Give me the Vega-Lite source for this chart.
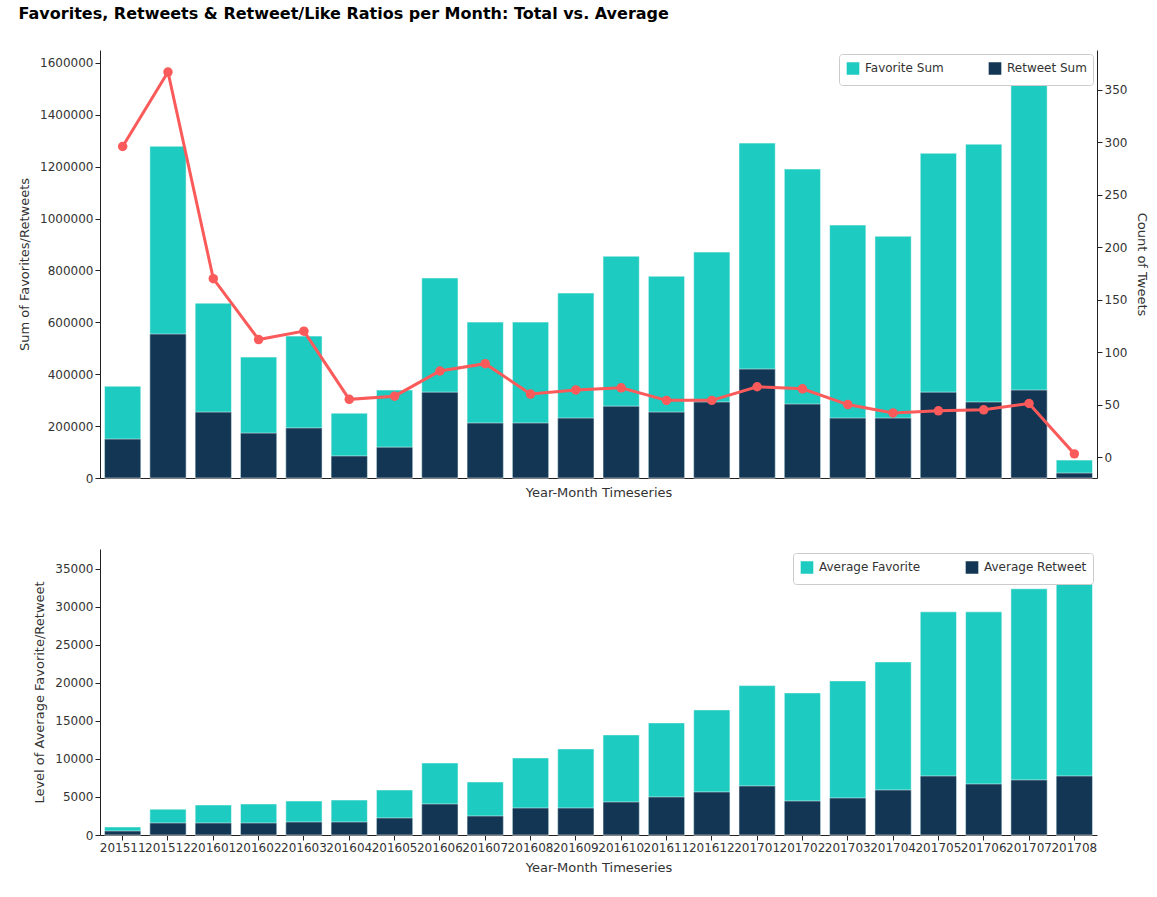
{
  "$schema": "https://vega.github.io/schema/vega-lite/v6.json",
  "title": {"text": "Favorites, Retweets & Retweet/Like Ratios per Month: Total vs. Average", "fontSize": 16, "fontWeight": "bold", "font": "DejaVu Sans", "offset": 28},
  "padding": {"left": 18, "top": 6, "right": 10, "bottom": 5},
  "datasets": {
    "monthly": [
      {"month": "201511", "fav_sum": 354000, "rt_sum": 150000, "tweets": 296, "fav_avg": 1050, "rt_avg": 530},
      {"month": "201512", "fav_sum": 1279000, "rt_sum": 555000, "tweets": 367, "fav_avg": 3400, "rt_avg": 1580},
      {"month": "201601", "fav_sum": 674000, "rt_sum": 254000, "tweets": 170, "fav_avg": 3950, "rt_avg": 1580},
      {"month": "201602", "fav_sum": 466000, "rt_sum": 173000, "tweets": 112, "fav_avg": 4080, "rt_avg": 1580},
      {"month": "201603", "fav_sum": 547000, "rt_sum": 193000, "tweets": 120, "fav_avg": 4470, "rt_avg": 1710},
      {"month": "201604", "fav_sum": 250000, "rt_sum": 85000, "tweets": 55, "fav_avg": 4600, "rt_avg": 1710},
      {"month": "201605", "fav_sum": 339000, "rt_sum": 119000, "tweets": 58, "fav_avg": 5920, "rt_avg": 2240},
      {"month": "201606", "fav_sum": 771000, "rt_sum": 331000, "tweets": 82, "fav_avg": 9470, "rt_avg": 4080},
      {"month": "201607", "fav_sum": 601000, "rt_sum": 212000, "tweets": 89, "fav_avg": 6970, "rt_avg": 2500},
      {"month": "201608", "fav_sum": 601000, "rt_sum": 212000, "tweets": 60, "fav_avg": 10130, "rt_avg": 3550},
      {"month": "201609", "fav_sum": 713000, "rt_sum": 231000, "tweets": 64, "fav_avg": 11320, "rt_avg": 3550},
      {"month": "201610", "fav_sum": 855000, "rt_sum": 277000, "tweets": 66, "fav_avg": 13160, "rt_avg": 4340},
      {"month": "201611", "fav_sum": 778000, "rt_sum": 254000, "tweets": 54, "fav_avg": 14740, "rt_avg": 5000},
      {"month": "201612", "fav_sum": 871000, "rt_sum": 293000, "tweets": 54, "fav_avg": 16450, "rt_avg": 5660},
      {"month": "201701", "fav_sum": 1291000, "rt_sum": 420000, "tweets": 67, "fav_avg": 19640, "rt_avg": 6450},
      {"month": "201702", "fav_sum": 1191000, "rt_sum": 285000, "tweets": 65, "fav_avg": 18680, "rt_avg": 4470},
      {"month": "201703", "fav_sum": 975000, "rt_sum": 231000, "tweets": 50, "fav_avg": 20260, "rt_avg": 4870},
      {"month": "201704", "fav_sum": 932000, "rt_sum": 231000, "tweets": 42, "fav_avg": 22760, "rt_avg": 5920},
      {"month": "201705", "fav_sum": 1252000, "rt_sum": 331000, "tweets": 44, "fav_avg": 29340, "rt_avg": 7760},
      {"month": "201706", "fav_sum": 1287000, "rt_sum": 293000, "tweets": 45, "fav_avg": 29340, "rt_avg": 6710},
      {"month": "201707", "fav_sum": 1620000, "rt_sum": 339000, "tweets": 51, "fav_avg": 32370, "rt_avg": 7240},
      {"month": "201708", "fav_sum": 69000, "rt_sum": 19000, "tweets": 3, "fav_avg": 35800, "rt_avg": 7760}
    ]
  },
  "data": {"name": "monthly"},
  "spacing": 50,
  "vconcat": [
    {
      "width": 997,
      "height": 428,
      "layer": [
        {
          "transform": [{"fold": ["fav_sum", "rt_sum"], "as": ["series", "value"]}],
          "mark": {"type": "bar", "stroke": "white", "strokeWidth": 0.5},
          "encoding": {
            "x": {"field": "month", "type": "ordinal", "scale": {"paddingInner": 0.2, "paddingOuter": 0.1},
                  "axis": {"labels": false, "ticks": false, "title": "Year-Month Timeseries"}},
            "y": {"field": "value", "type": "quantitative", "stack": null,
                  "scale": {"domain": [0, 1650000], "nice": false},
                  "axis": {"title": "Sum of Favorites/Retweets", "values": [0, 200000, 400000, 600000, 800000, 1000000, 1200000, 1400000, 1600000], "format": "d"}},
            "color": {"field": "series", "type": "nominal",
                      "scale": {"domain": ["fav_sum", "rt_sum"], "range": ["#1ecbc0", "#133654"]},
                      "legend": {"orient": "top-right", "direction": "horizontal", "title": null, "symbolType": "square", "symbolSize": 200, "symbolOpacity": 1,
                                 "labelExpr": "datum.value == 'fav_sum' ? 'Favorite Sum' : 'Retweet Sum'", "columnPadding": 40,
                                 "strokeColor": "#cccccc", "fillColor": "white", "padding": 6, "offset": 4, "cornerRadius": 3}}
          }
        },
        {
          "mark": {"type": "line", "color": "#fb5a5a", "strokeWidth": 3, "point": {"filled": true, "size": 90, "color": "#fb5a5a"}},
          "encoding": {
            "x": {"field": "month", "type": "ordinal"},
            "y": {"field": "tweets", "type": "quantitative", "scale": {"domain": [-20, 388], "nice": false, "zero": false},
                  "axis": {"orient": "right", "title": "Count of Tweets", "values": [0, 50, 100, 150, 200, 250, 300, 350]}}
          }
        }
      ],
      "resolve": {"scale": {"y": "independent"}}
    },
    {
      "width": 997,
      "height": 286,
      "transform": [{"fold": ["fav_avg", "rt_avg"], "as": ["series", "value"]}],
      "mark": {"type": "bar", "stroke": "white", "strokeWidth": 0.5},
      "encoding": {
        "x": {"field": "month", "type": "ordinal", "scale": {"paddingInner": 0.2, "paddingOuter": 0.1},
              "axis": {"labelAngle": 0, "title": "Year-Month Timeseries"}},
        "y": {"field": "value", "type": "quantitative", "stack": null,
              "scale": {"domain": [0, 37600], "nice": false},
              "axis": {"title": "Level of Average Favorite/Retweet", "values": [0, 5000, 10000, 15000, 20000, 25000, 30000, 35000], "format": "d"}},
        "color": {"field": "series", "type": "nominal",
                  "scale": {"domain": ["fav_avg", "rt_avg"], "range": ["#1ecbc0", "#133654"]},
                  "legend": {"orient": "top-right", "direction": "horizontal", "title": null, "symbolType": "square", "symbolSize": 200, "symbolOpacity": 1,
                             "labelExpr": "datum.value == 'fav_avg' ? 'Average Favorite' : 'Average Retweet'", "columnPadding": 40,
                             "strokeColor": "#cccccc", "fillColor": "white", "padding": 6, "offset": 4, "cornerRadius": 3}}
      }
    }
  ],
  "resolve": {"scale": {"color": "independent"}, "legend": {"color": "independent"}},
  "config": {
    "font": "DejaVu Sans",
    "view": {"stroke": null},
    "axis": {"grid": false, "domainColor": "#222222", "tickColor": "#222222", "labelFontSize": 12, "titleFontSize": 13, "titleFontWeight": "normal", "labelColor": "#333333", "titleColor": "#333333", "titlePadding": 8},
    "legend": {"labelFontSize": 12, "labelColor": "#333333"}
  }
}
